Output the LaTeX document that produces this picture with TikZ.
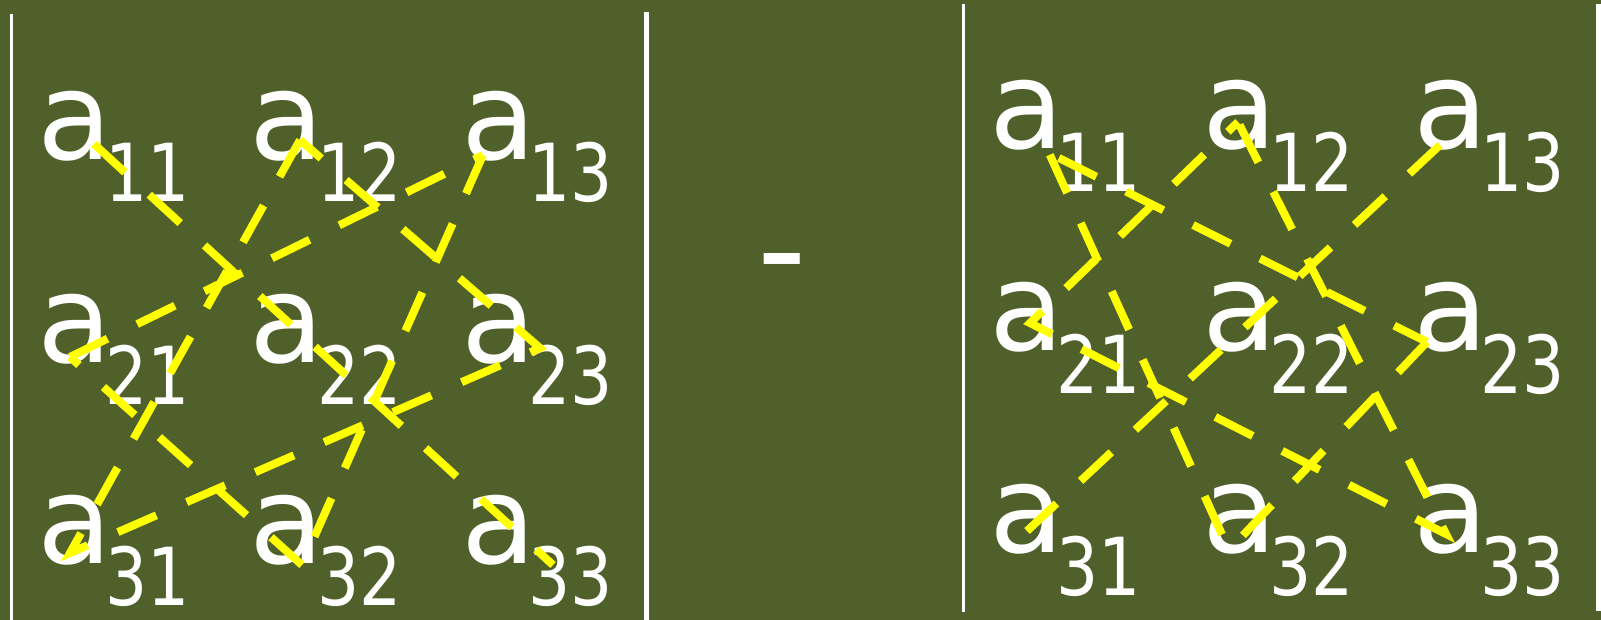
\documentclass[tikz,border=0pt]{standalone}
\usepackage{fontspec}
\newfontfamily\afont{DejaVu Sans}
\newfontfamily\subfont[FakeStretch=0.83]{DejaVu Sans}
\definecolor{bg}{RGB}{80,96,42}
\definecolor{yel}{RGB}{255,255,0}
\tikzset{
  letter/.style={anchor=base west, inner sep=0pt, text=white, text depth=0pt, font=\afont\fontsize{122}{122}\selectfont},
  subidx/.style={anchor=base west, inner sep=0pt, text=white, text depth=0pt, font=\subfont\fontsize{80}{80}\selectfont},
  minussign/.style={anchor=base west, inner sep=0pt, text=white, font=\afont\fontsize{137}{137}\selectfont},
  yline/.style={draw=yel, line width=8pt, line join=miter},
  bar/.style={draw=white}
}
\begin{document}
\begin{tikzpicture}[x=1pt,y=-1pt]
\fill[bg] (0,0) rectangle (1601,620);
\useasboundingbox (0,0) rectangle (1601,620);

% determinant bars
\draw[bar, line width=3pt] (11,14) -- (11,620);
\draw[bar, line width=5pt] (646,12) -- (646,620);
\draw[bar, line width=3pt] (963.5,4) -- (963.5,612);
\fill[white] (1596,4) rectangle (1601,611);

% left matrix letters
\node[letter] (la11) at (37,160) {a};
\node[letter] (la12) at (249,160) {a};
\node[letter] (la13) at (461,160) {a};
\node[letter] (la21) at (37,362) {a};
\node[letter] (la22) at (249,362) {a};
\node[letter] (la23) at (461,362) {a};
\node[letter] (la31) at (37,563) {a};
\node[letter] (la32) at (249,563) {a};
\node[letter] (la33) at (461,563) {a};
\node[subidx] (ls11) at (105,202) {11};
\node[subidx] (ls12) at (317,202) {12};
\node[subidx] (ls13) at (528,202) {13};
\node[subidx] (ls21) at (105,404) {21};
\node[subidx] (ls22) at (317,404) {22};
\node[subidx] (ls23) at (528,404) {23};
\node[subidx] (ls31) at (105,605) {31};
\node[subidx] (ls32) at (317,605) {32};
\node[subidx] (ls33) at (528,605) {33};

% minus
\node[minussign] (minus) at (757,297) {-};

% right matrix letters
\node[letter] (ra11) at (989,149) {a};
\node[letter] (ra12) at (1202,149) {a};
\node[letter] (ra13) at (1413,149) {a};
\node[letter] (ra21) at (989,350) {a};
\node[letter] (ra22) at (1202,350) {a};
\node[letter] (ra23) at (1413,350) {a};
\node[letter] (ra31) at (989,552) {a};
\node[letter] (ra32) at (1202,552) {a};
\node[letter] (ra33) at (1413,552) {a};
\node[subidx] (rs11) at (1056,192) {11};
\node[subidx] (rs12) at (1269,192) {12};
\node[subidx] (rs13) at (1480,192) {13};
\node[subidx] (rs21) at (1056,393) {21};
\node[subidx] (rs22) at (1269,393) {22};
\node[subidx] (rs23) at (1480,393) {23};
\node[subidx] (rs31) at (1056,595) {31};
\node[subidx] (rs32) at (1269,595) {32};
\node[subidx] (rs33) at (1480,595) {33};

% left vertices
\coordinate (L11) at (94,144);
\coordinate (L33) at (553,565);
\coordinate (L12) at (300,140);
\coordinate (L31) at (70,553);
\coordinate (L23) at (540,348);
\coordinate (L21) at (70,357);
\coordinate (L32) at (302,565);
\coordinate (L13) at (483,155);

% right vertices
\coordinate (R13) at (1440,145);
\coordinate (R31) at (1027,531);
\coordinate (R12) at (1238,122);
\coordinate (R21) at (1030,323);
\coordinate (R33) at (1446,534);
\coordinate (R11) at (1049,153);
\coordinate (R23) at (1427,342);
\coordinate (R32) at (1229,550);

% left: positive terms
\draw[yline, dash=on 42pt off 33pt phase 0pt] (L11) -- (L33);
\draw[yline, dash=on 42pt off 33pt phase 0pt] (L12) -- (L31) -- (L23) -- cycle;
\draw[yline, dash=on 42pt off 33pt phase 30pt] (L21) -- (L32);
\draw[yline, dash=on 42pt off 33pt phase 44pt] (L32) -- (L13);
\draw[yline, dash=on 42pt off 33pt phase 32pt] (L13) -- (L21);

% right: negative terms
\draw[yline, dash=on 42pt off 33pt phase 0pt] (R13) -- (R31);
\draw[yline, dash=on 42pt off 33pt phase 28pt] (R12) -- (R21) -- (R33) -- cycle;
\draw[yline, dash=on 42pt off 33pt phase 64pt] (R11) -- (R23);
\draw[yline, dash=on 42pt off 33pt phase 0pt] (R23) -- (R32);
\draw[yline, dash=on 42pt off 33pt phase 58pt] (R32) -- (R11);
\end{tikzpicture}
\end{document}
